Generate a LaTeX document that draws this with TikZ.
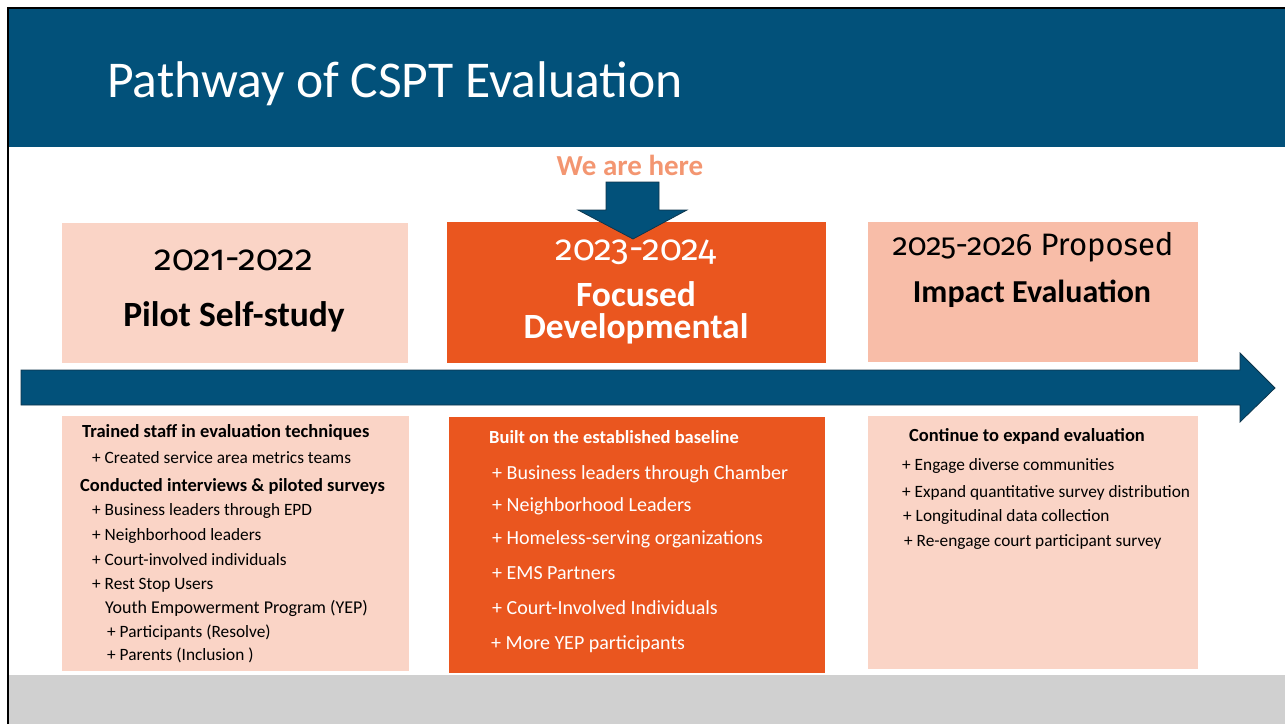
\documentclass[tikz,border=0pt]{standalone}
\usepackage{fontspec}
\setmainfont{Carlito}
\newfontfamily\yearfont[Numbers=OldStyle]{Fira Sans}
\definecolor{headblue}{RGB}{2,81,122}
\definecolor{arrowedge}{RGB}{14,52,74}
\definecolor{peach}{RGB}{250,212,198}
\definecolor{salmon}{RGB}{248,189,168}
\definecolor{burnt}{RGB}{234,86,31}
\definecolor{herecol}{RGB}{243,150,113}
\definecolor{bandgrey}{RGB}{208,208,208}
\tikzset{
  yearbox/.style={anchor=north west, inner sep=0pt},
  yeartxt/.style={anchor=base, font=\fontsize{36}{38}\yearfont},
  phasetxt/.style={anchor=base, font=\fontsize{35.5}{38}\selectfont\bfseries},
  headtxt/.style={anchor=base west, inner sep=0pt, font=\fontsize{18.5}{20}\selectfont\bfseries},
  itemtxt/.style={anchor=base west, inner sep=0pt, font=\fontsize{17.3}{19}\selectfont},
  bigitem/.style={anchor=base west, inner sep=0pt, font=\fontsize{20}{22}\selectfont, text=white}
}
\begin{document}
\begin{tikzpicture}[x=1pt,y=1pt,yscale=-1,xscale=1]
\useasboundingbox (0,0) rectangle (1285,724);

%Shape: Rectangle [header]
\fill[headblue] (9,9) rectangle (1285,147);
%Shape: Rectangle [footer band]
\fill[bandgrey] (9,675) rectangle (1285,724);
%Straight Lines [slide edge]
\draw[line width=2pt] (8,724) -- (8,8) -- (1285,8);

% Text Node
\node[anchor=base west, inner sep=0pt, text=white, font=\fontsize{51.6}{56}\selectfont] (title) at (107,97) {Pathway of CSPT Evaluation};

%Shape: Rectangle [upper boxes]
\node[yearbox, fill=peach, minimum width=346pt, minimum height=140pt] (boxA) at (62,223) {};
\node[yearbox, fill=burnt, minimum width=379pt, minimum height=141pt] (boxB) at (447,222) {};
\node[yearbox, fill=salmon, minimum width=330pt, minimum height=140pt] (boxC) at (868,222) {};

%Shape: Right Arrow [timeline]
\draw[fill=headblue, draw=arrowedge, line width=0.75pt] (21,370) -- (1240,370) -- (1240,353) -- (1275,388) -- (1240,422) -- (1240,405) -- (21,405) -- cycle;

%Shape: Down Arrow
\draw[fill=headblue, draw=arrowedge, line width=0.75pt] (606,182) -- (659,182) -- (659,210) -- (687,210) -- (633,239) -- (578,210) -- (606,210) -- cycle;

% Text Node
\node[anchor=base, text=herecol, font=\fontsize{29}{31}\selectfont\bfseries] (here) at (630,175) {We are here};
% Text Node
\node[yeartxt] (yrA) at (234,270) {2021-2022};
\node[phasetxt] (phA) at (234,326) {Pilot Self-study};
% Text Node
\node[yeartxt, text=white] (yrB) at (636,260) {2023-2024};
\node[phasetxt, text=white] (phB) at (636,306) {Focused};
\node[phasetxt, text=white] (phB2) at (636,338) {Developmental};
% Text Node
\node[yeartxt, font=\fontsize{31}{34}\yearfont] (yrC) at (1033,255) {2025-2026 Proposed};
\node[phasetxt, font=\fontsize{32}{34}\selectfont\bfseries] (phC) at (1032,302) {Impact Evaluation};

%Shape: Rectangle [lower boxes]
\node[yearbox, fill=peach, minimum width=347pt, minimum height=255pt] (lowA) at (62,416) {};
\node[yearbox, fill=burnt, minimum width=376pt, minimum height=256pt] (lowB) at (449,417) {};
\node[yearbox, fill=peach, minimum width=330pt, minimum height=253pt] (lowC) at (868,416) {};

% Text Node [2021-2022 details]
\node[headtxt] (a1) at (82,437) {Trained staff in evaluation techniques};
\node[itemtxt] (a2) at (92,463) {+ Created service area metrics teams};
\node[headtxt] (a3) at (80,491) {Conducted interviews \& piloted surveys};
\node[itemtxt] (a4) at (92,515) {+ Business leaders through EPD};
\node[itemtxt] (a5) at (92,540) {+ Neighborhood leaders};
\node[itemtxt] (a6) at (92,565) {+ Court-involved individuals};
\node[itemtxt] (a7) at (92,589) {+ Rest Stop Users};
\node[itemtxt, font=\fontsize{18}{20}\selectfont] (a8) at (105,613) {Youth Empowerment Program (YEP)};
\node[itemtxt] (a9) at (107,637) {+ Participants (Resolve)};
\node[itemtxt] (a10) at (107,660) {+ Parents (Inclusion )};

% Text Node [2023-2024 details]
\node[headtxt, text=white] (b1) at (489,443) {Built on the established baseline};
\node[bigitem] (b2) at (492,479) {+ Business leaders through Chamber};
\node[bigitem] (b3) at (492,511) {+ Neighborhood Leaders};
\node[bigitem] (b4) at (492,544) {+ Homeless-serving organizations};
\node[bigitem] (b5) at (492,579) {+ EMS Partners};
\node[bigitem] (b6) at (492,614) {+ Court-Involved Individuals};
\node[bigitem] (b7) at (491,649) {+ More YEP participants};

% Text Node [2025-2026 details]
\node[headtxt] (c1) at (909,441) {Continue to expand evaluation};
\node[itemtxt] (c2) at (902,470) {+ Engage diverse communities};
\node[itemtxt] (c3) at (902,497) {+ Expand quantitative survey distribution};
\node[itemtxt] (c4) at (903,521) {+ Longitudinal data collection};
\node[itemtxt] (c5) at (904,546) {+ Re-engage court participant survey};

\end{tikzpicture}
\end{document}
